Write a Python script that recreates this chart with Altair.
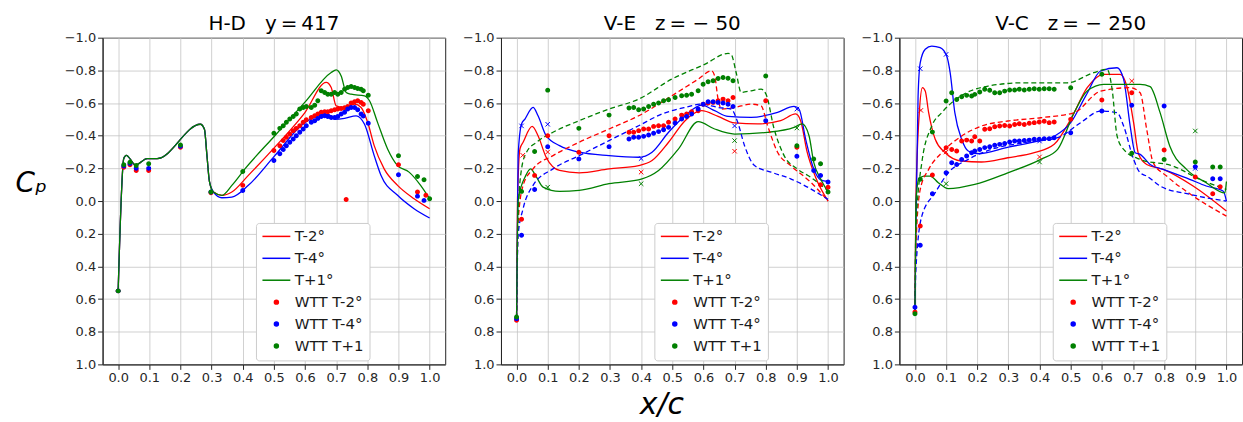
import altair as alt
import pandas as pd

LABELS = ["T-2°", "T-4°", "T+1°", "WTT T-2°", "WTT T-4°", "WTT T+1"]
COLORS = ["#ff0000", "#0000ff", "#008000", "#ff0000", "#0000ff", "#008000"]
SERIES_COLORS = {"red": "#ff0000", "blue": "#0000ff", "green": "#008000"}
SYMBOLS = ["M-7,0L7,0"] * 3 + ["circle"] * 3
X_TICKS = [0.0, 0.1, 0.2, 0.3, 0.4, 0.5, 0.6, 0.7, 0.8, 0.9, 1.0]
Y_TICKS = [-1.0, -0.8, -0.6, -0.4, -0.2, 0.0, 0.2, 0.4, 0.6, 0.8, 1.0]
NB = "\u00a0"
TS = "\u2009"
TITLES = ["H-D" + NB * 3 + "y" + TS + "=" + TS + "417",
          "V-E" + NB * 3 + "z" + TS + "=" + NB + "−" + NB + "50",
          "V-C" + NB * 3 + "z" + TS + "=" + NB + "−" + NB + "250"]

# ---------------- H-D (panel 1) ----------------
HD_START = [(0, 0.55), (0.018, -0.26), (0.026, -0.28), (0.056, -0.22), (0.093, -0.26),
            (0.125, -0.26), (0.264, -0.47), (0.277, -0.44), (0.285, -0.28), (0.293, -0.12),
            (0.306, -0.055)]
HD_T2 = HD_START + [(0.333, -0.035), (0.365, -0.055), (0.418, -0.157), (0.503, -0.33),
                    (0.599, -0.54), (0.668, -0.726), (0.684, -0.695), (0.70, -0.583),
                    (0.727, -0.573), (0.759, -0.593), (0.78, -0.573), (0.801, -0.482),
                    (0.822, -0.339), (0.854, -0.197), (0.897, -0.096), (0.95, -0.014), (1.0, 0.047)]
HD_T4 = HD_START + [(0.333, -0.02), (0.365, -0.024), (0.418, -0.096), (0.503, -0.278),
                    (0.599, -0.48), (0.674, -0.532), (0.695, -0.50), (0.727, -0.506),
                    (0.764, -0.522), (0.791, -0.47), (0.822, -0.278), (0.844, -0.156),
                    (0.897, -0.035), (0.95, 0.047), (1.0, 0.104)]
HD_P1 = HD_START + [(0.333, -0.035), (0.365, -0.096), (0.407, -0.197), (0.503, -0.40),
                    (0.599, -0.604), (0.684, -0.787), (0.70, -0.803), (0.716, -0.766),
                    (0.732, -0.665), (0.748, -0.654), (0.791, -0.644), (0.807, -0.614),
                    (0.833, -0.48), (0.865, -0.319), (0.897, -0.217), (0.934, -0.177),
                    (0.971, -0.096), (1.0, -0.014)]

HD_W_X = [0.500, 0.519, 0.530, 0.540, 0.551, 0.562, 0.572, 0.583, 0.594, 0.604, 0.620, 0.631,
          0.641, 0.652, 0.663, 0.673, 0.684, 0.695, 0.705, 0.716, 0.727, 0.737, 0.748, 0.759,
          0.769, 0.780, 0.787, 0.803]
HD_W_T2 = [-0.309, -0.339, -0.370, -0.390, -0.411, -0.431, -0.445, -0.461, -0.482, -0.498,
           -0.512, -0.522, -0.533, -0.543, -0.547, -0.547, -0.553, -0.559, -0.563, -0.567,
           -0.571, -0.579, -0.600, -0.608, -0.614, -0.604, -0.593, -0.553]
HD_W_T4 = [-0.248, -0.289, -0.315, -0.339, -0.360, -0.380, -0.400, -0.421, -0.441, -0.461,
           -0.482, -0.492, -0.506, -0.518, -0.522, -0.518, -0.512, -0.512, -0.518, -0.533,
           -0.543, -0.563, -0.573, -0.573, -0.559, -0.533, -0.520, -0.476]
HD_W_P1 = [-0.415, -0.445, -0.461, -0.482, -0.502, -0.518, -0.533, -0.563, -0.573, -0.579,
           -0.573, -0.587, -0.614, -0.675, -0.665, -0.654, -0.654, -0.665, -0.654, -0.665,
           -0.685, -0.695, -0.701, -0.695, -0.689, -0.685, -0.675, -0.648]
HD_EXTRA_T2 = [(0, 0.55), (0.018, -0.207), (0.038, -0.222), (0.058, -0.187), (0.098, -0.187),
               (0.2, -0.329), (0.298, -0.051), (0.40, -0.096), (0.732, -0.01), (0.9, -0.222),
               (0.961, -0.055), (0.988, -0.035)]
HD_EXTRA_T4 = [(0, 0.55), (0.018, -0.215), (0.038, -0.23), (0.058, -0.2), (0.098, -0.2),
               (0.2, -0.335), (0.298, -0.055), (0.40, -0.065), (0.9, -0.161), (0.961, -0.03),
               (0.982, -0.004)]
HD_EXTRA_P1 = [(0, 0.55), (0.018, -0.222), (0.038, -0.238), (0.058, -0.217), (0.098, -0.228),
               (0.2, -0.343), (0.298, -0.055), (0.40, -0.181), (0.9, -0.278), (0.961, -0.15),
               (0.982, -0.13), (1.0, -0.014)]

# ---------------- V-E (panel 2) ----------------
VE_T2 = [(0, 0.72), (0.003, 0.0), (0.011, -0.32), (0.021, -0.36), (0.05, -0.457), (0.069, -0.40),
         (0.095, -0.268), (0.138, -0.187), (0.201, -0.173), (0.297, -0.197), (0.392, -0.217),
         (0.435, -0.248), (0.488, -0.36), (0.541, -0.492), (0.594, -0.553), (0.647, -0.518),
         (0.70, -0.478), (0.774, -0.472), (0.848, -0.492), (0.896, -0.533), (0.912, -0.492),
         (0.933, -0.299), (0.96, -0.146), (1.0, 0.0)]
VE_T4 = [(0, 0.72), (0.005, -0.278), (0.016, -0.472), (0.027, -0.502), (0.053, -0.573),
         (0.069, -0.522), (0.095, -0.40), (0.138, -0.339), (0.201, -0.299), (0.297, -0.278),
         (0.392, -0.268), (0.435, -0.299), (0.488, -0.421), (0.541, -0.522), (0.594, -0.587),
         (0.636, -0.553), (0.679, -0.518), (0.753, -0.512), (0.838, -0.543), (0.891, -0.579),
         (0.907, -0.563), (0.928, -0.38), (0.954, -0.197), (0.976, -0.13), (1.0, -0.12)]
VE_P1 = [(0, 0.72), (0.005, 0.0), (0.016, -0.096), (0.027, -0.146), (0.045, -0.197),
         (0.064, -0.146), (0.085, -0.085), (0.138, -0.059), (0.201, -0.065), (0.297, -0.106),
         (0.403, -0.136), (0.456, -0.187), (0.52, -0.319), (0.583, -0.486), (0.636, -0.441),
         (0.70, -0.41), (0.806, -0.421), (0.891, -0.451), (0.917, -0.472), (0.939, -0.40),
         (0.954, -0.238), (0.976, -0.136), (1.0, -0.055)]
VE_T2_D = [(0, 0.72), (0.005, 0.128), (0.021, -0.096), (0.053, -0.197), (0.117, -0.278),
           (0.201, -0.36), (0.297, -0.441), (0.392, -0.522), (0.498, -0.644), (0.583, -0.746),
           (0.626, -0.797), (0.636, -0.766), (0.647, -0.624), (0.658, -0.563), (0.70, -0.573),
           (0.753, -0.593), (0.785, -0.583), (0.806, -0.461), (0.838, -0.299), (0.88, -0.217),
           (0.944, -0.116), (1.0, 0.0)]
VE_T4_D = [(0, 0.72), (0.005, 0.209), (0.021, 0.047), (0.053, -0.096), (0.117, -0.197),
           (0.201, -0.278), (0.297, -0.37), (0.392, -0.461), (0.467, -0.533), (0.541, -0.573),
           (0.594, -0.593), (0.647, -0.573), (0.689, -0.563), (0.71, -0.482), (0.732, -0.339),
           (0.764, -0.217), (0.817, -0.177), (0.88, -0.136), (0.944, -0.075), (1.0, -0.01)]
VE_P1_D = [(0, 0.72), (0.005, 0.087), (0.016, -0.197), (0.032, -0.299), (0.064, -0.36),
           (0.117, -0.421), (0.201, -0.492), (0.297, -0.563), (0.392, -0.624), (0.498, -0.746),
           (0.604, -0.837), (0.679, -0.904), (0.689, -0.898), (0.705, -0.787), (0.721, -0.665),
           (0.753, -0.675), (0.785, -0.685), (0.801, -0.654), (0.827, -0.441), (0.859, -0.278),
           (0.901, -0.197), (0.944, -0.146), (0.986, -0.085), (1.0, -0.065)]

VE_W_X = [0.361, 0.376, 0.392, 0.408, 0.424, 0.440, 0.456, 0.472, 0.488, 0.509, 0.530, 0.546,
          0.562, 0.583, 0.599, 0.615, 0.631, 0.647, 0.663, 0.679, 0.695]
VE_W_T2 = [-0.421, -0.421, -0.431, -0.441, -0.441, -0.457, -0.461, -0.461, -0.482, -0.502,
           -0.526, -0.533, -0.547, -0.553, -0.593, -0.600, -0.604, -0.614, -0.624, -0.614, -0.634]
VE_W_T4 = [-0.380, -0.390, -0.390, -0.396, -0.404, -0.415, -0.425, -0.437, -0.451, -0.478,
           -0.502, -0.518, -0.533, -0.563, -0.593, -0.608, -0.608, -0.604, -0.600, -0.593, -0.579]
VE_W_P1 = [-0.569, -0.573, -0.559, -0.563, -0.579, -0.593, -0.600, -0.614, -0.620, -0.634,
           -0.644, -0.648, -0.654, -0.675, -0.715, -0.730, -0.736, -0.750, -0.756, -0.752, -0.736]
VE_EXTRA_T2 = [(0, 0.73), (0.016, 0.112), (0.058, -0.157), (0.1, -0.40), (0.2, -0.299),
               (0.297, -0.40), (0.8, -0.614), (0.9, -0.329), (0.976, -0.10), (1.0, -0.085)]
VE_EXTRA_T4 = [(0, 0.72), (0.016, 0.209), (0.058, -0.071), (0.1, -0.333), (0.2, -0.258),
               (0.297, -0.333), (0.8, -0.492), (0.9, -0.274), (0.954, -0.187), (0.976, -0.157),
               (1.0, -0.116)]
VE_EXTRA_P1 = [(0, 0.71), (0.016, -0.059), (0.058, -0.303), (0.1, -0.679), (0.2, -0.445),
               (0.297, -0.526), (0.8, -0.766), (0.9, -0.339), (0.954, -0.258), (0.976, -0.228),
               (1.0, -0.055)]
VE_CROSS = [(0.016, -0.46, "blue"), (0.02, -0.28, "red"), (0.1, -0.085, "green"),
            (0.1, -0.47, "blue"), (0.1, -0.30, "red"), (0.4, -0.26, "blue"), (0.4, -0.177, "red"),
            (0.4, -0.106, "green"), (0.7, -0.46, "blue"), (0.7, -0.37, "green"),
            (0.7, -0.305, "red"), (0.9, -0.563, "blue"), (0.9, -0.447, "green")]

# ---------------- V-C (panel 3) ----------------
VC_T2 = [(0, 0.68), (0.003, 0.01), (0.014, -0.541), (0.024, -0.694), (0.033, -0.673),
         (0.044, -0.541), (0.065, -0.378), (0.097, -0.296), (0.15, -0.245), (0.213, -0.239),
         (0.298, -0.265), (0.383, -0.296), (0.447, -0.347), (0.50, -0.50), (0.553, -0.694),
         (0.606, -0.776), (0.659, -0.776), (0.68, -0.704), (0.702, -0.48), (0.718, -0.286),
         (0.744, -0.224), (0.797, -0.194), (0.893, -0.092), (1.0, 0.061)]
VC_T4 = [(0, 0.65), (0.003, 0.17), (0.01, -0.64), (0.017, -0.847), (0.033, -0.929),
         (0.054, -0.949), (0.081, -0.939), (0.102, -0.888), (0.113, -0.786), (0.128, -0.541),
         (0.15, -0.378), (0.171, -0.306), (0.2, -0.29), (0.3, -0.33), (0.4, -0.37),
         (0.45, -0.40), (0.5, -0.48), (0.55, -0.65), (0.596, -0.796), (0.649, -0.816),
         (0.67, -0.745), (0.691, -0.459), (0.707, -0.296), (0.723, -0.286), (0.755, -0.224),
         (0.797, -0.194), (0.882, -0.133), (0.935, -0.092), (0.99, -0.06), (1.0, 0.0)]
VC_P1 = [(0, 0.68), (0.003, 0.01), (0.012, -0.133), (0.028, -0.153), (0.049, -0.153),
         (0.075, -0.112), (0.107, -0.076), (0.192, -0.102), (0.298, -0.173), (0.404, -0.255),
         (0.458, -0.316), (0.511, -0.541), (0.553, -0.673), (0.606, -0.714), (0.723, -0.714),
         (0.755, -0.70), (0.787, -0.541), (0.818, -0.337), (0.872, -0.194), (0.935, -0.112),
         (0.995, -0.05), (1.0, -0.12)]
VC_T2_D = [(0, 0.68), (0.003, 0.276), (0.017, -0.071), (0.044, -0.194), (0.086, -0.296),
           (0.15, -0.398), (0.213, -0.459), (0.298, -0.49), (0.404, -0.51), (0.511, -0.541),
           (0.596, -0.673), (0.691, -0.694), (0.723, -0.663), (0.744, -0.439), (0.765, -0.235),
           (0.808, -0.153), (0.893, -0.031), (1.0, 0.092)]
VC_T4_D = [(0, 0.68), (0.003, 0.42), (0.022, 0.092), (0.065, -0.051), (0.107, -0.173),
           (0.171, -0.255), (0.245, -0.316), (0.351, -0.357), (0.458, -0.388), (0.532, -0.48),
           (0.596, -0.551), (0.649, -0.541), (0.67, -0.459), (0.702, -0.255), (0.723, -0.173),
           (0.744, -0.153), (0.787, -0.092), (0.882, -0.041), (1.0, 0.0)]
VC_P1_D = [(0, 0.68), (0.003, 0.173), (0.022, -0.235), (0.054, -0.459), (0.086, -0.541),
           (0.139, -0.633), (0.235, -0.704), (0.351, -0.724), (0.489, -0.724), (0.574, -0.786),
           (0.617, -0.806), (0.633, -0.684), (0.649, -0.398), (0.67, -0.316), (0.723, -0.255),
           (0.829, -0.214), (0.914, -0.133), (1.0, -0.071)]

VC_W_X = [0.118, 0.134, 0.150, 0.166, 0.182, 0.192, 0.208, 0.224, 0.240, 0.256, 0.272, 0.288,
          0.304, 0.320, 0.335, 0.351, 0.367, 0.383, 0.399, 0.415, 0.431, 0.447]
VC_W_T2 = [-0.316, -0.306, -0.367, -0.373, -0.367, -0.394, -0.367, -0.439, -0.443, -0.455,
           -0.459, -0.463, -0.459, -0.469, -0.473, -0.469, -0.476, -0.480, -0.484, -0.488,
           -0.480, -0.484]
VC_W_T4 = [-0.235, -0.224, -0.255, -0.276, -0.296, -0.306, -0.316, -0.327, -0.333, -0.341,
           -0.347, -0.353, -0.361, -0.367, -0.367, -0.371, -0.373, -0.378, -0.378, -0.382,
           -0.382, -0.388]
VC_W_P1 = [-0.663, -0.622, -0.639, -0.647, -0.643, -0.653, -0.667, -0.684, -0.678, -0.663,
           -0.663, -0.673, -0.680, -0.680, -0.684, -0.680, -0.684, -0.688, -0.684, -0.688,
           -0.688, -0.684]
VC_EXTRA_T2 = [(0, 0.68), (0.017, 0.153), (0.056, -0.159), (0.1, -0.327), (0.5, -0.5),
               (0.6, -0.618), (0.696, -0.663), (0.8, -0.312), (0.9, -0.147), (0.956, -0.045),
               (0.98, -0.088)]
VC_EXTRA_T4 = [(0, 0.65), (0.017, 0.271), (0.056, -0.045), (0.1, -0.173), (0.5, -0.418),
               (0.6, -0.551), (0.696, -0.586), (0.8, -0.582), (0.9, -0.21), (0.956, -0.137),
               (0.98, -0.137)]
VC_EXTRA_P1 = [(0, 0.69), (0.017, -0.133), (0.056, -0.422), (0.1, -0.612), (0.5, -0.694),
               (0.6, -0.776), (0.696, -0.292), (0.8, -0.255), (0.9, -0.239), (0.956, -0.208),
               (0.98, -0.208)]
VC_CROSS = [(0.017, -0.81, "blue"), (0.019, -0.555, "red"), (0.1, -0.898, "blue"),
            (0.1, -0.106, "green"), (0.1, -0.30, "red"), (0.4, -0.367, "blue"),
            (0.4, -0.27, "red"), (0.4, -0.239, "green"), (0.696, -0.735, "red"),
            (0.9, -0.429, "green"), (0.9, -0.2, "blue")]


def pts_frame(pts):
    return pd.DataFrame([{"x": x, "y": y, "i": i} for i, (x, y) in enumerate(pts)])


def wtt_frame(xs, dense, extra):
    rows = []
    for label, ys in dense.items():
        rows += [{"x": x, "y": y, "label": label} for x, y in zip(xs, ys)]
    for label, pts in extra.items():
        rows += [{"x": x, "y": y, "label": label} for x, y in pts]
    return pd.DataFrame(rows)


COLOR_SCALE = alt.Scale(domain=LABELS, range=COLORS)
SHAPE_SCALE = alt.Scale(domain=LABELS, range=SYMBOLS)
LEG = alt.Legend(orient="none", legendX=154, legendY=186)


def panel(idx, solid, dashed, wtt, crosses):
    if idx == 1:
        xaxis = alt.Axis(values=X_TICKS, format=".1f", grid=True, title="x/c",
                         titleFontSize=30, titleFontStyle="italic", titleFontWeight="normal",
                         titleFont="DejaVu Sans", titleX=161, titleAlign="center",
                         titlePadding=5, titleColor="black")
    else:
        xaxis = alt.Axis(values=X_TICKS, format=".1f", grid=True)
    if idx == 0:
        yaxis = alt.Axis(values=Y_TICKS, format=".1f", grid=True, title="Cₚ", titleAngle=0,
                         titleFontSize=28, titleFontStyle="italic", titleFontWeight="normal",
                         titleFont="DejaVu Sans", titleAlign="left", titleBaseline="middle",
                         titleX=-88, titleY=146, titleColor="black")
    else:
        yaxis = alt.Axis(values=Y_TICKS, format=".1f", grid=True)
    X = alt.X("x:Q", scale=alt.Scale(domain=[-0.05, 1.05], nice=False, zero=False),
              axis=xaxis, title="x/c" if idx == 1 else None)
    Y = alt.Y("y:Q", scale=alt.Scale(domain=[-1, 1], reverse=True, nice=False, zero=False),
              axis=yaxis, title="Cₚ" if idx == 0 else None)

    layers = []
    for color, pts in solid:
        layers.append(
            alt.Chart(pts_frame(pts))
            .mark_line(stroke=SERIES_COLORS[color], strokeWidth=1.3, interpolate="monotone",
                       clip=True)
            .encode(x=X, y=Y, order="i:Q"))
    for color, pts in dashed:
        layers.append(
            alt.Chart(pts_frame(pts))
            .mark_line(stroke=SERIES_COLORS[color], strokeWidth=1.3, strokeDash=[5, 3],
                       interpolate="monotone", clip=True)
            .encode(x=X, y=Y, order="i:Q"))
    for color in ["red", "blue", "green"]:
        sub = [(x, y) for x, y, c in crosses if c == color]
        if sub:
            layers.append(
                alt.Chart(pts_frame(sub))
                .mark_point(shape="M-1,-1L1,1M-1,1L1,-1", filled=False, size=20,
                            strokeWidth=1, opacity=1, stroke=SERIES_COLORS[color], clip=True)
                .encode(x=X, y=Y))
    layers.append(
        alt.Chart(wtt).mark_point(filled=True, size=12, strokeWidth=1.5, opacity=1, clip=True)
        .encode(x=X, y=Y,
                stroke=alt.Stroke("label:N", scale=COLOR_SCALE, legend=LEG, title=None),
                fill=alt.Fill("label:N", scale=COLOR_SCALE, legend=LEG, title=None),
                shape=alt.Shape("label:N", scale=SHAPE_SCALE, legend=LEG, title=None)))
    return alt.layer(*layers).properties(width=344, height=328, title=TITLES[idx])


p1 = panel(0, [("red", HD_T2), ("blue", HD_T4), ("green", HD_P1)], [],
           wtt_frame(HD_W_X, {"WTT T-2°": HD_W_T2, "WTT T-4°": HD_W_T4, "WTT T+1": HD_W_P1},
                     {"WTT T-2°": HD_EXTRA_T2, "WTT T-4°": HD_EXTRA_T4, "WTT T+1": HD_EXTRA_P1}),
           [])
p2 = panel(1, [("red", VE_T2), ("blue", VE_T4), ("green", VE_P1)],
           [("red", VE_T2_D), ("blue", VE_T4_D), ("green", VE_P1_D)],
           wtt_frame(VE_W_X, {"WTT T-2°": VE_W_T2, "WTT T-4°": VE_W_T4, "WTT T+1": VE_W_P1},
                     {"WTT T-2°": VE_EXTRA_T2, "WTT T-4°": VE_EXTRA_T4, "WTT T+1": VE_EXTRA_P1}),
           VE_CROSS)
p3 = panel(2, [("red", VC_T2), ("blue", VC_T4), ("green", VC_P1)],
           [("red", VC_T2_D), ("blue", VC_T4_D), ("green", VC_P1_D)],
           wtt_frame(VC_W_X, {"WTT T-2°": VC_W_T2, "WTT T-4°": VC_W_T4, "WTT T+1": VC_W_P1},
                     {"WTT T-2°": VC_EXTRA_T2, "WTT T-4°": VC_EXTRA_T4, "WTT T+1": VC_EXTRA_P1}),
           VC_CROSS)

chart = (
    alt.hconcat(p1, p2, p3, spacing=15)
    .resolve_scale(stroke="independent", fill="independent", shape="independent")
    .resolve_legend(stroke="independent", fill="independent", shape="independent")
    .properties(padding={"left": 14, "top": 12, "right": 0, "bottom": 0}, background="white")
    .configure_view(stroke="#222222", strokeWidth=1)
    .configure_axis(labelFont="DejaVu Sans", labelFontSize=13, labelColor="#262626",
                    tickColor="#262626", domainColor="#262626", tickSize=5, labelPadding=2,
                    gridColor="#c4c4c4", gridWidth=0.8, domainWidth=1)
    .configure_title(font="DejaVu Sans", fontSize=20, fontWeight="normal", color="black",
                     offset=-2, anchor="middle")
    .configure_legend(fillColor="white", strokeColor="#cccccc", cornerRadius=3, padding=6,
                      labelFont="DejaVu Sans", labelFontSize=15, labelColor="#1a1a1a",
                      symbolSize=16, symbolStrokeWidth=1.5, symbolOffset=7, labelOffset=11,
                      rowPadding=6)
)

chart.save("out.html", embed_options={"renderer": "svg", "actions": False})
